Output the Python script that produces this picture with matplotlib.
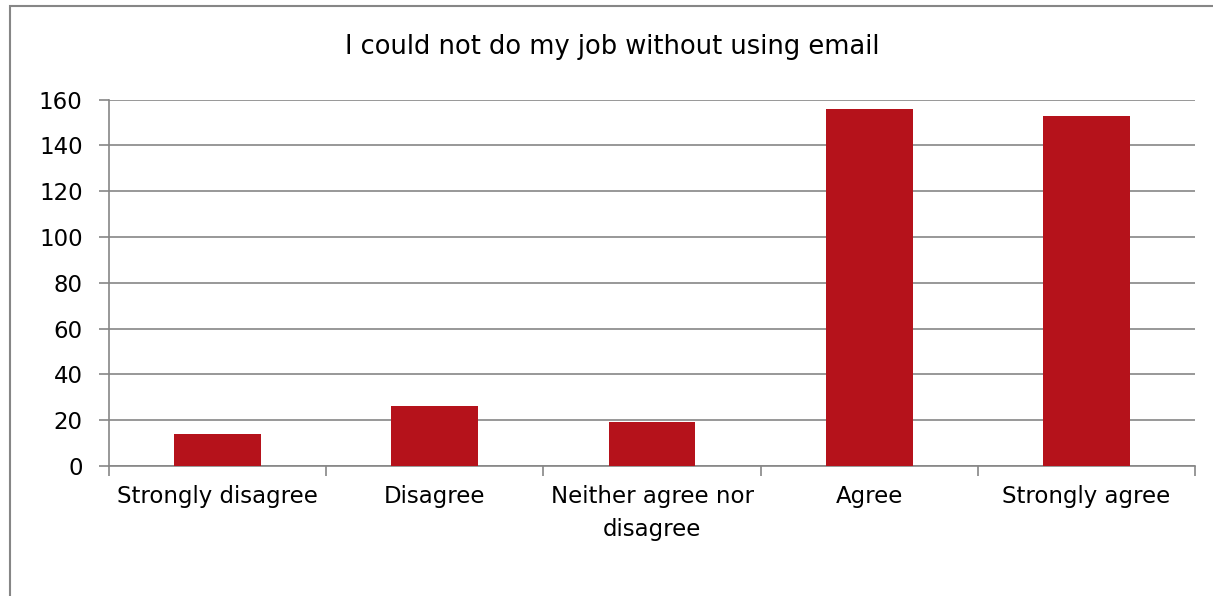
import matplotlib.pyplot as plt
from matplotlib.patches import Rectangle

# survey responses
categories = ["Strongly disagree", "Disagree", "Neither agree nor\ndisagree",
              "Agree", "Strongly agree"]
counts = [14, 26, 19, 156, 153]
yticks = [0, 20, 40, 60, 80, 100, 120, 140, 160]

bar_color = "#B5121B"
grid_color = "#868686"

plt.rcParams['font.family'] = ['DejaVu Sans']

fig = plt.figure(figsize=(12.13, 5.96), dpi=100)
ax = fig.add_axes([0.0899, 0.2181, 0.8953, 0.6149])

x = range(len(categories))
ax.bar(x, counts, width=0.4, color=bar_color, zorder=3)

ax.set_xlim(-0.5, len(categories) - 0.5)
ax.set_ylim(0, 160)
ax.set_yticks(yticks)
ax.set_yticklabels([str(v) for v in yticks], fontsize=16.5)

# category labels centred under bars, tick marks between categories
ax.set_xticks(list(x))
ax.set_xticklabels(categories, fontsize=16.5, linespacing=1.55)
ax.tick_params(axis='x', length=0, pad=14)
ax.set_xticks([i - 0.5 for i in range(len(categories) + 1)], minor=True)
ax.tick_params(axis='x', which='minor', length=7, width=1.2, color=grid_color)
ax.tick_params(axis='y', length=7, width=1.2, color=grid_color, pad=12)

ax.yaxis.grid(True, color=grid_color, linewidth=1.2, zorder=0)
for side in ['top', 'right']:
    ax.spines[side].set_visible(False)
for side in ['left', 'bottom']:
    ax.spines[side].set_color(grid_color)
    ax.spines[side].set_linewidth(1.2)

fig.text(0.5045, 0.921, "I could not do my job without using email",
         ha='center', va='center', fontsize=18.5)

# chart area border
fig.patches.append(Rectangle((10 / 1213, -0.1), 1.2, 1.1 - 6 / 596,
                             transform=fig.transFigure, fill=False,
                             edgecolor=grid_color, linewidth=1.5))

fig.savefig("out.png", dpi=100)
